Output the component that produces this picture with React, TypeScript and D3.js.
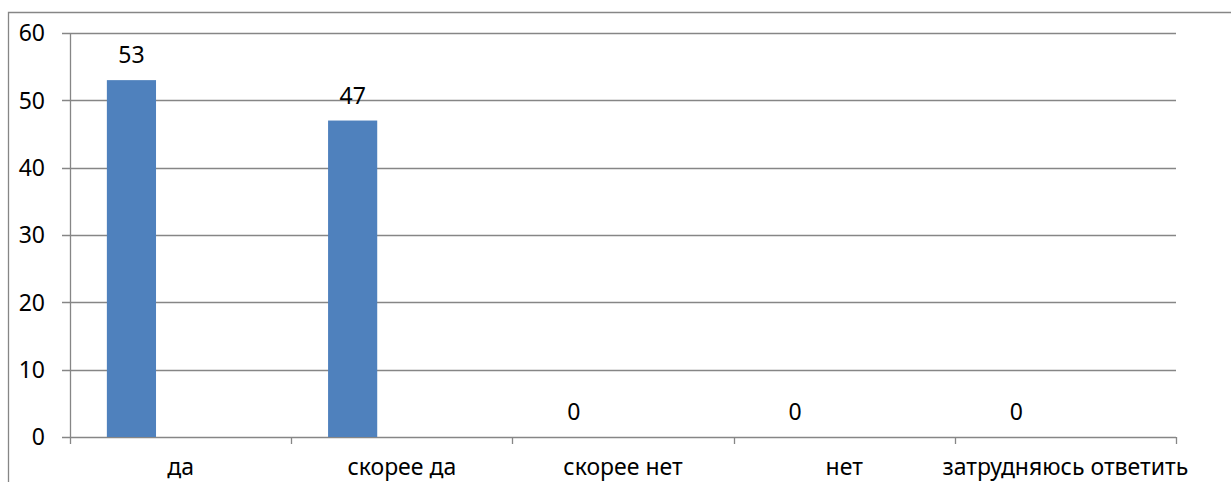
import React, {useRef, useEffect} from 'react';
import * as d3 from 'd3';

const categories = ['да', 'скорее да', 'скорее нет', 'нет', 'затрудняюсь ответить'];
const seriesNames = ['Ряд1', 'Ряд2', 'Ряд3'];
const values = [53, 47, 0, 0, 0];
const yTicks = [0, 10, 20, 30, 40, 50, 60];

const width = 1231;
const height = 482;
const FONT = '"Noto Sans", "Open Sans", sans-serif';

const BarChart: React.FC = () => {
    const ref = useRef<HTMLDivElement | null>(null);

    useEffect(() => {
        const margin = {top: 33, right: 55, bottom: 45, left: 70};
        const innerW = width - margin.left - margin.right;
        const innerH = height - margin.top - margin.bottom;

        const div = d3.select(ref.current);
        const svg = div.append('svg')
            .attr('width', width)
            .attr('height', height)
            .style('display', 'block');

        svg.append('rect')
            .attr('width', width)
            .attr('height', height)
            .attr('fill', '#fff');

        // outer chart border (cut at the right and bottom)
        svg.append('path')
            .attr('d', `M8.5,${height + 2} V12.5 H${width + 2}`)
            .attr('fill', 'none')
            .attr('stroke', '#868686')
            .attr('stroke-width', 1.3);

        const g = svg.append('g')
            .attr('transform', `translate(${margin.left}, ${margin.top})`);

        const x0 = d3.scaleBand<string>()
            .domain(categories)
            .range([0, innerW])
            .paddingInner(0)
            .paddingOuter(0);

        // Excel clustered layout: 3 series, gap width 150%
        const x1 = d3.scaleBand<string>()
            .domain(seriesNames)
            .range([0, x0.bandwidth()])
            .paddingInner(0)
            .paddingOuter(0.75);

        const y = d3.scaleLinear()
            .domain([0, 60])
            .range([innerH, 0]);

        // gridlines
        g.selectAll('line.grid')
            .data(yTicks)
            .enter()
            .append('line')
            .attr('class', 'grid')
            .attr('x1', -8)
            .attr('x2', innerW)
            .attr('y1', d => Math.round(y(d)) + 0.5)
            .attr('y2', d => Math.round(y(d)) + 0.5)
            .attr('stroke', '#868686')
            .attr('stroke-width', 1.3);

        // y axis line
        g.append('line')
            .attr('x1', 0.5)
            .attr('x2', 0.5)
            .attr('y1', 0)
            .attr('y2', innerH + 7)
            .attr('stroke', '#868686')
            .attr('stroke-width', 1.3);

        // x axis category ticks
        const bounds = categories.map(c => x0(c) as number).concat([innerW]);
        g.selectAll('line.xtick')
            .data(bounds.slice(1))
            .enter()
            .append('line')
            .attr('class', 'xtick')
            .attr('x1', d => Math.round(d) + 0.5)
            .attr('x2', d => Math.round(d) + 0.5)
            .attr('y1', innerH)
            .attr('y2', innerH + 7)
            .attr('stroke', '#868686')
            .attr('stroke-width', 1.3);

        // y labels
        g.selectAll('text.ylab')
            .data(yTicks)
            .enter()
            .append('text')
            .attr('class', 'ylab')
            .attr('x', -25)
            .attr('y', d => y(d))
            .attr('dy', '0.36em')
            .attr('text-anchor', 'end')
            .style('font-family', FONT)
            .style('font-size', '23px')
            .attr('fill', '#000')
            .text(d => d);

        // x labels
        g.selectAll('text.xlab')
            .data(categories)
            .enter()
            .append('text')
            .attr('class', 'xlab')
            .attr('x', d => (x0(d) as number) + x0.bandwidth() / 2)
            .attr('y', innerH + 38)
            .attr('text-anchor', 'middle')
            .style('font-family', FONT)
            .style('font-size', '23px')
            .attr('fill', '#000')
            .text(d => d);

        // bars (only first series has data)
        const barX = (c: string) => (x0(c) as number) + (x1(seriesNames[0]) as number);
        g.selectAll('rect.bar')
            .data(values)
            .enter()
            .append('rect')
            .attr('class', 'bar')
            .attr('x', (d, i) => barX(categories[i]))
            .attr('y', d => y(d))
            .attr('width', x1.bandwidth())
            .attr('height', d => innerH - y(d))
            .attr('fill', '#4F81BD');

        // data labels
        g.selectAll('text.val')
            .data(values)
            .enter()
            .append('text')
            .attr('class', 'val')
            .attr('x', (d, i) => barX(categories[i]) + x1.bandwidth() / 2)
            .attr('y', d => y(d) - 17)
            .attr('text-anchor', 'middle')
            .style('font-family', FONT)
            .style('font-size', '23px')
            .attr('fill', '#000')
            .text(d => d);

        return () => {
            d3.select(ref.current).selectAll('*').remove();
        };
    }, []);

    return (
        <div style={{position: 'absolute', left: 0, top: 0, width, height, overflow: 'hidden'}} ref={ref}>
        </div>
    );
};

export default function App() {
    return <BarChart/>;
}
